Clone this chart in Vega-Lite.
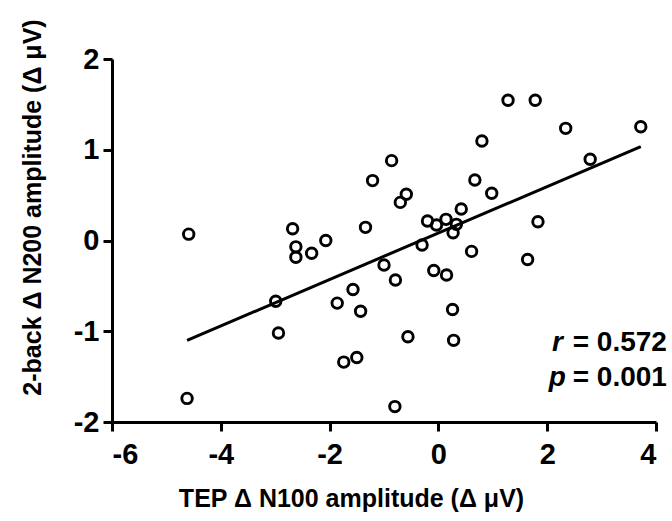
{
  "$schema": "https://vega.github.io/schema/vega-lite/v6.json",
  "width": 544,
  "height": 363,
  "autosize": "none",
  "padding": {"left": 112, "top": 59, "right": 16, "bottom": 99},
  "background": "white",
  "config": {
    "view": {"stroke": null},
    "font": "Liberation Sans",
    "axis": {
      "grid": false,
      "domainColor": "black",
      "domainWidth": 3,
      "tickColor": "black",
      "tickWidth": 3,
      "tickSize": 9,
      "labelFont": "Liberation Sans",
      "labelFontWeight": "bold",
      "labelFontSize": 29,
      "labelColor": "black",
      "labelExpr": "'' + datum.value",
      "titleFont": "Liberation Sans",
      "titleFontWeight": "bold",
      "titleFontSize": 25,
      "titleColor": "black"
    }
  },
  "datasets": {
    "pts": [
      {"x": -4.59, "y": 0.07}, {"x": -4.62, "y": -1.74}, {"x": -2.99, "y": -0.67},
      {"x": -2.94, "y": -1.02}, {"x": -2.68, "y": 0.13}, {"x": -2.62, "y": -0.07},
      {"x": -2.62, "y": -0.185}, {"x": -2.33, "y": -0.14}, {"x": -2.07, "y": 0.0},
      {"x": -1.86, "y": -0.69}, {"x": -1.74, "y": -1.34}, {"x": -1.57, "y": -0.54},
      {"x": -1.5, "y": -1.29}, {"x": -1.43, "y": -0.78}, {"x": -1.34, "y": 0.145},
      {"x": -1.21, "y": 0.66}, {"x": -1.0, "y": -0.27}, {"x": -0.86, "y": 0.88},
      {"x": -0.79, "y": -0.435}, {"x": -0.8, "y": -1.83}, {"x": -0.7, "y": 0.42},
      {"x": -0.59, "y": 0.51}, {"x": -0.56, "y": -1.06}, {"x": -0.3, "y": -0.05},
      {"x": -0.2, "y": 0.215}, {"x": -0.085, "y": -0.33}, {"x": -0.035, "y": 0.171},
      {"x": 0.14, "y": 0.233}, {"x": 0.15, "y": -0.38}, {"x": 0.26, "y": -0.76},
      {"x": 0.28, "y": -1.1}, {"x": 0.27, "y": 0.086}, {"x": 0.33, "y": 0.178},
      {"x": 0.42, "y": 0.347}, {"x": 0.61, "y": -0.12}, {"x": 0.67, "y": 0.667},
      {"x": 0.8, "y": 1.096}, {"x": 0.98, "y": 0.52}, {"x": 1.28, "y": 1.545},
      {"x": 1.64, "y": -0.21}, {"x": 1.78, "y": 1.545}, {"x": 1.83, "y": 0.207},
      {"x": 2.34, "y": 1.236}, {"x": 2.79, "y": 0.895}, {"x": 3.72, "y": 1.254}
    ],
    "fit": [
      {"x": -4.62, "y": -1.1},
      {"x": 3.72, "y": 1.034}
    ],
    "statsLabel": [
      {"x": 2.09, "y": -1.218, "t": "r"},
      {"x": 2.03, "y": -1.603, "t": "p"}
    ],
    "statsValue": [
      {"x": 4.2, "y": -1.218, "t": "= 0.572"},
      {"x": 4.2, "y": -1.603, "t": "= 0.001"}
    ]
  },
  "layer": [
    {
      "data": {"name": "pts"},
      "mark": {"type": "point", "shape": "circle", "filled": false, "stroke": "black", "strokeWidth": 2.9, "size": 110, "opacity": 1},
      "encoding": {
        "x": {
          "field": "x", "type": "quantitative",
          "scale": {"domain": [-6, 4], "nice": false, "zero": false},
          "axis": {"values": [-6, -4, -2, 0, 2, 4], "title": "TEP Δ N100 amplitude (Δ μV)", "labelPadding": 9, "titleX": 239, "titleY": 84, "titleBaseline": "alphabetic", "titleAnchor": "middle", "titleAlign": "center"}
        },
        "y": {
          "field": "y", "type": "quantitative",
          "scale": {"domain": [-2, 2], "nice": false, "zero": false},
          "axis": {"values": [-2, -1, 0, 1, 2], "title": "2-back Δ N200 amplitude (Δ μV)", "labelPadding": 4, "titleX": -72, "titleY": 148, "titleBaseline": "alphabetic", "titleAngle": -90, "titleAlign": "center"}
        }
      }
    },
    {
      "data": {"name": "fit"},
      "mark": {"type": "line", "color": "black", "strokeWidth": 3},
      "encoding": {
        "x": {"field": "x", "type": "quantitative"},
        "y": {"field": "y", "type": "quantitative"}
      }
    },
    {
      "data": {"name": "statsLabel"},
      "mark": {"type": "text", "align": "left", "baseline": "alphabetic", "font": "Liberation Sans", "fontSize": 28, "fontWeight": "bold", "fontStyle": "italic", "color": "black"},
      "encoding": {
        "x": {"field": "x", "type": "quantitative"},
        "y": {"field": "y", "type": "quantitative"},
        "text": {"field": "t"}
      }
    },
    {
      "data": {"name": "statsValue"},
      "mark": {"type": "text", "align": "right", "baseline": "alphabetic", "font": "Liberation Sans", "fontSize": 28, "fontWeight": "bold", "color": "black"},
      "encoding": {
        "x": {"field": "x", "type": "quantitative"},
        "y": {"field": "y", "type": "quantitative"},
        "text": {"field": "t"}
      }
    }
  ]
}
